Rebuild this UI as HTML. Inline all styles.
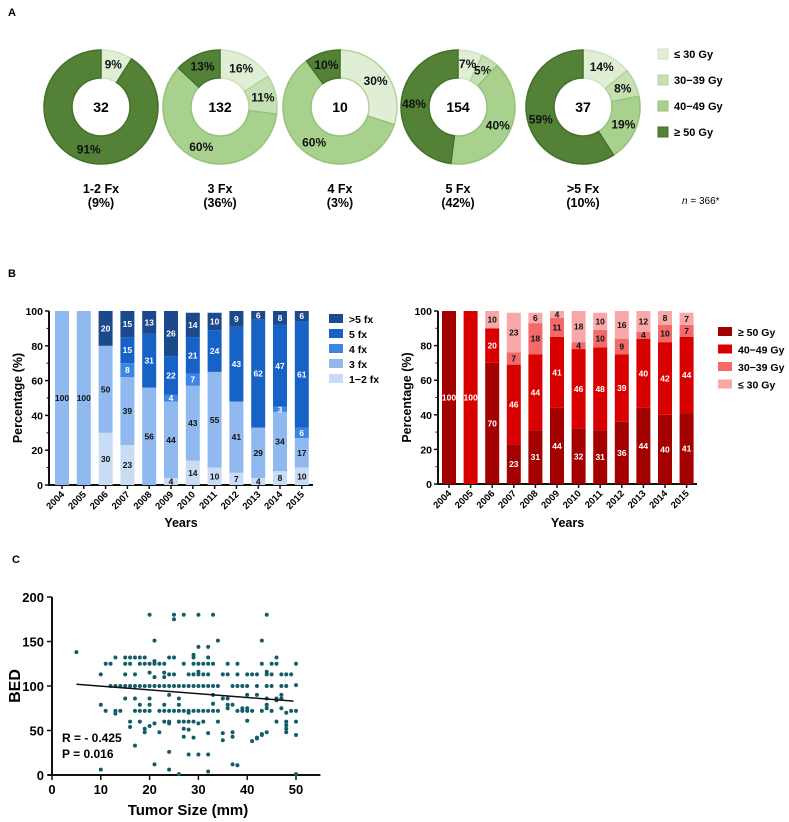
<!DOCTYPE html>
<html><head><meta charset="utf-8"><style>
body{margin:0;background:#fff}
svg{display:block;font-family:"Liberation Sans",Arial,sans-serif;font-weight:bold}
</style></head><body>
<svg id="fig" width="789" height="822" viewBox="0 0 789 822" xmlns="http://www.w3.org/2000/svg">
<text x="8" y="16" font-size="11">A</text>
<text x="8" y="277" font-size="11">B</text>
<text x="12" y="563" font-size="11">C</text>
<g id="donuts"></g>
<g id="barL"></g>
<g id="barR"></g>
<g id="scatter"></g>
</svg>
<script>
const NS="http://www.w3.org/2000/svg";
function mk(p,t,a,txt){const e=document.createElementNS(NS,t);for(const k in a)e.setAttribute(k,a[k]);if(txt!==undefined)e.textContent=txt;p.appendChild(e);return e;}

// ---------- Panel A ----------
const donutCats=["1-2 Fx","3 Fx","4 Fx","5 Fx",">5 Fx"];
const donutShares=["(9%)","(36%)","(3%)","(42%)","(10%)"];
const donutN=[32,132,10,154,37];
const doseLe30=[9,16,0,7,14];
const dose30_39=[0,11,30,5,8];
const dose40_49=[0,60,60,40,19];
const doseGe50=[91,13,10,48,59];
const doseNames=["≤ 30 Gy","30−39 Gy","40−49 Gy","≥ 50 Gy"];
const greens=["#e0eed6","#c6e0b4","#a9d18e","#538135"];
const greenStroke=["#cfe2c2","#b3d39d","#96c27a","#44702a"];
const dG=document.getElementById('donuts');
const dcx=[101,220,340,458,583], dcy=107, R=57, r=29;
donutCats.forEach((c,i)=>{
  const vals=[doseLe30[i],dose30_39[i],dose40_49[i],doseGe50[i]];
  // 4 Fx: 30% slice drawn in lighter colour
  const tot=vals.reduce((a,b)=>a+b,0);
  let a0=0;
  vals.forEach((v,j)=>{
    if(!v)return;
    const a1=a0+v/tot*2*Math.PI;
    const p=(a,rad)=>[dcx[i]+rad*Math.sin(a),dcy-rad*Math.cos(a)];
    const [x0,y0]=p(a0,R),[x1,y1]=p(a1,R),[x2,y2]=p(a1,r),[x3,y3]=p(a0,r);
    const lg=(a1-a0)>Math.PI?1:0;
    let col=greens[j];
    if(i===2&&j===1)col=greens[0];
    const s=mk(dG,'path',{d:`M${x0},${y0}A${R},${R} 0 ${lg} 1 ${x1},${y1}L${x2},${y2}A${r},${r} 0 ${lg} 0 ${x3},${y3}Z`,fill:col,stroke:greenStroke[j],'stroke-width':1.5});
    
    
    const am=(a0+a1)/2, lr=(R+r)/2+1;
    const [lx,ly]=p(am,lr);
    const t=mk(dG,'text',{x:lx,y:ly+4,'font-size':12,'text-anchor':'middle',fill:'#111'},v+'%');
    
    
    a0=a1;
  });
  const n=mk(dG,'text',{x:dcx[i],y:dcy+5,'font-size':14,'text-anchor':'middle'},donutN[i]);
  
  
  const l1=mk(dG,'text',{x:dcx[i],y:193,'font-size':12.5,'text-anchor':'middle'},c);
  
  
  const l2=mk(dG,'text',{x:dcx[i],y:207,'font-size':12.5,'text-anchor':'middle'},donutShares[i]);
  
  
});
doseNames.forEach((nm,j)=>{
  const y=55+j*26;
  const s=mk(dG,'rect',{x:658,y:y-6,width:10,height:10,fill:greens[j],stroke:greenStroke[j]});
  
  
  const t=mk(dG,'text',{x:674,y:y+3,'font-size':11},nm);
  
  
});
const nt=mk(dG,'text',{x:682,y:204,'font-size':10,'font-weight':'normal'});


nt.innerHTML='<tspan font-style="italic">n</tspan> = 366*';

// ---------- Panel B ----------
const years=["2004","2005","2006","2007","2008","2009","2010","2011","2012","2013","2014","2015"];
const fx12=[0,0,30,23,0,4,14,10,7,4,8,10];
const fx3=[100,100,50,39,56,44,43,55,41,29,34,17];
const fx4=[0,0,0,8,0,4,7,0,0,0,3,6];
const fx5=[0,0,0,15,31,22,21,24,43,62,47,61];
const fxGt5=[0,0,20,15,13,26,14,10,9,6,8,6];
const gy50=[100,0,70,23,31,44,32,31,36,44,40,41];
const gy40=[0,100,20,46,44,41,46,48,39,40,42,44];
const gy30=[0,0,0,7,18,11,4,10,9,4,10,7];
const gyLe30=[0,0,10,23,6,4,18,10,16,12,8,7];
const yTicks=[0,20,40,60,80,100];

function stacked(gid,o){
  const g=document.getElementById(gid);
  const yS=v=>o.y0-(o.y0-o.y100)*Math.min(v,100)/100;
  const xS=i=>o.xFirst+i*o.step;
  // axes
  let e=mk(g,'line',{x1:o.ax,y1:o.y100,x2:o.ax,y2:o.y0+1,stroke:'#111','stroke-width':2});
  
  e=mk(g,'line',{x1:o.ax,y1:o.y0,x2:o.axEnd,y2:o.y0,stroke:'#111','stroke-width':2});
  
  yTicks.forEach(v=>{
    mk(g,'line',{x1:o.ax-4,y1:yS(v),x2:o.ax,y2:yS(v),stroke:'#111','stroke-width':1.5});
    if(v<100)mk(g,'line',{x1:o.ax-2.5,y1:yS(v+10),x2:o.ax,y2:yS(v+10),stroke:'#111','stroke-width':1});
    const t=mk(g,'text',{x:o.ax-6,y:yS(v)+4,'font-size':10.5,'text-anchor':'end'},v);
    
  });
  years.forEach((yr,i)=>{
    mk(g,'line',{x1:xS(i),y1:o.y0,x2:xS(i),y2:o.y0+4,stroke:'#111','stroke-width':1.5});
    const t=mk(g,'text',{x:xS(i)+3,y:o.y0+10,'font-size':9.5,'text-anchor':'end',transform:`rotate(-45 ${xS(i)+3} ${o.y0+10})`},yr);
    
    let cum=0;
    o.series.forEach((s,j)=>{
      const v=s[i];if(!v)return;
      const yt=yS(cum+v),yb=yS(cum);
      const b=mk(g,'rect',{x:xS(i)-7,y:yt,width:14,height:Math.max(0,yb-yt),fill:o.colors[j]});
      
      const l=mk(g,'text',{x:xS(i),y:(yt+yb)/2+3,'font-size':8.5,'text-anchor':'middle',fill:o.txt[j]},v);
      
      cum+=v;
    });
  });
  e=mk(g,'text',{x:(o.ax+o.axEnd)/2,y:527,'font-size':12.5,'text-anchor':'middle'},'Years');
  
  const ty=(o.y0+o.y100)/2;
  e=mk(g,'text',{x:o.ax-27,y:ty,'font-size':12.5,'text-anchor':'middle',transform:`rotate(-90 ${o.ax-27} ${ty})`},'Percentage  (%)');
  
  o.legend.forEach((nm,j)=>{
    const y=o.legY+j*o.legStep;
    const s=mk(g,'rect',{x:o.legX,y:y-5,width:14,height:9,fill:o.legColors[j]});
    
    const t=mk(g,'text',{x:o.legX+20,y:y+4,'font-size':10.5},nm);
    
  });
}
const blues=["#c9dcf5","#8fb9ef","#3a86e0","#1762c6","#1b4a8c"];
stacked('barL',{y0:485,y100:311,ax:49,axEnd:313,xFirst:62,step:21.8,
  series:[fx12,fx3,fx4,fx5,fxGt5],colors:blues,txt:["#111","#111","#fff","#fff","#fff"],
  legend:[">5 fx","5 fx","4 fx","3 fx","1−2 fx"],legColors:[blues[4],blues[3],blues[2],blues[1],blues[0]],
  legX:329,legY:319,legStep:15});
const reds=["#a30000","#d90000","#f26a6a","#f9a8a8"];
stacked('barR',{y0:484,y100:311,ax:438,axEnd:697,xFirst:449,step:21.6,
  series:[gy50,gy40,gy30,gyLe30],colors:reds,txt:["#fff","#fff","#111","#111"],
  legend:["≥ 50 Gy","40−49 Gy","30−39 Gy","≤ 30 Gy"],legColors:reds,
  legX:718,legY:332,legStep:17.5});

// ---------- Panel C ----------
const tumorSize=[5,10,10,10,11,11,12,12,13,13,13,13,14,14,15,15,15,15,15,16,16,16,16,16,17,17,17,17,17,17,18,18,18,18,18,18,19,19,19,19,19,19,20,20,20,20,20,20,20,20,21,21,21,21,21,21,21,22,22,22,22,23,23,23,23,23,23,23,24,24,24,24,24,24,24,24,24,25,25,25,25,25,25,26,26,26,26,26,26,27,27,27,27,27,27,27,28,28,28,28,28,28,28,29,29,29,29,29,29,29,29,30,30,30,30,30,30,30,30,30,31,31,31,31,31,32,32,32,32,32,32,32,32,32,33,33,33,33,33,33,34,34,34,34,35,35,35,35,36,36,36,36,36,37,37,37,37,37,38,38,38,38,38,39,39,39,40,40,40,40,40,40,41,41,41,42,42,42,42,42,43,43,43,43,43,44,44,44,44,44,44,44,44,45,45,45,45,46,46,46,46,46,47,47,47,47,47,48,48,48,48,48,48,48,49,49,50,50,50,50,50,50];
const bed=[138,113,79,6,125,72,125,100,132,100,72,69,100,72,125,113,100,86,132,132,125,100,60,54,132,113,100,86,72,33,132,125,100,79,72,60,132,125,100,72,52,48,180,125,115,100,86,79,72,55,151,128,125,110,100,58,12,125,100,72,48,125,115,110,100,79,72,60,132,113,100,90,72,60,58,26,6,180,175,132,113,100,72,100,86,79,72,60,1,180,125,100,72,60,52,43,113,100,72,70,60,51,23,135,132,125,113,100,72,60,42,180,144,125,116,113,100,72,58,23,125,113,100,72,60,144,132,125,113,100,72,47,23,4,180,125,100,90,80,72,151,100,72,60,113,86,47,39,125,113,86,79,75,100,79,48,43,12,125,113,100,72,11,100,75,72,113,100,90,75,72,61,113,72,38,113,100,90,41,42,151,125,72,46,45,180,116,113,100,86,79,75,48,125,113,100,72,132,125,86,84,60,113,100,90,86,75,113,100,70,60,56,52,48,113,72,125,101,72,60,45,1];
const fitX=[5,49.5];
const fitY=[102,83];
const xTicksC=[0,10,20,30,40,50];
const yTicksC=[0,50,100,150,200];
(function(){
  const g=document.getElementById('scatter');
  const xS=v=>52+v*4.88, yS=v=>775-v*0.89;
  let e=mk(g,'line',{x1:xS(0),y1:yS(200),x2:xS(0),y2:yS(0)+1,stroke:'#111','stroke-width':2});
  
  e=mk(g,'line',{x1:xS(0)-4,y1:yS(0),x2:xS(55),y2:yS(0),stroke:'#111','stroke-width':2});
  
  yTicksC.forEach(v=>{
    mk(g,'line',{x1:xS(0)-5,y1:yS(v),x2:xS(0),y2:yS(v),stroke:'#111','stroke-width':1.5});
    const t=mk(g,'text',{x:xS(0)-8,y:yS(v)+5,'font-size':13,'text-anchor':'end'},v);
    
  });
  xTicksC.forEach(v=>{
    mk(g,'line',{x1:xS(v),y1:yS(0),x2:xS(v),y2:yS(0)+5,stroke:'#111','stroke-width':1.5});
    const t=mk(g,'text',{x:xS(v),y:yS(0)+19,'font-size':13,'text-anchor':'middle'},v);
    
  });
  tumorSize.forEach((x,i)=>{
    const c=mk(g,'circle',{cx:xS(x),cy:yS(bed[i]),r:2,fill:'#135d6b'});
    
  });
  e=mk(g,'line',{x1:xS(fitX[0]),y1:yS(fitY[0]),x2:xS(fitX[1]),y2:yS(fitY[1]),stroke:'#111','stroke-width':1.5});
  
  e=mk(g,'text',{x:62,y:742,'font-size':12},'R = - 0.425');
  
  e=mk(g,'text',{x:62,y:758,'font-size':12},'P = 0.016');
  
  e=mk(g,'text',{x:188,y:815,'font-size':15,'text-anchor':'middle'},'Tumor Size (mm)');
  
  e=mk(g,'text',{x:20,y:686,'font-size':16,'text-anchor':'middle',transform:'rotate(-90 20 686)'},'BED');
  
})();
</script>
</body></html>
